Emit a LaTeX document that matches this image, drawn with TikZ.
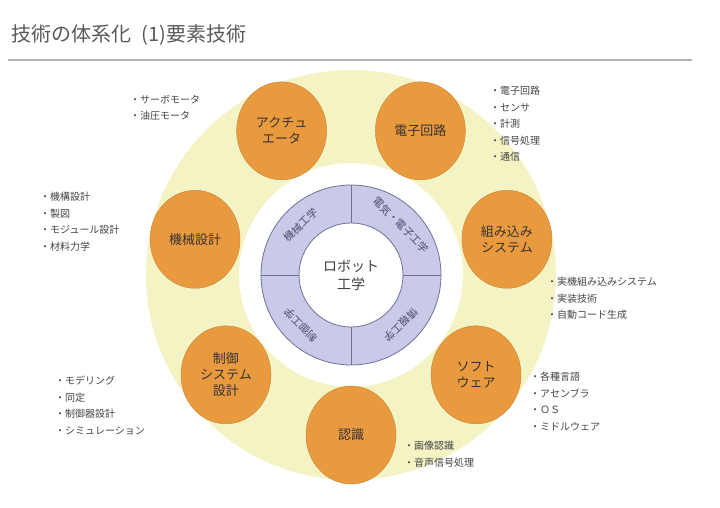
\documentclass[tikz,border=0pt]{standalone}
\usepackage{fontspec}
\setmainfont{Noto Sans CJK JP}
\usetikzlibrary{shapes.geometric,calc}
\definecolor{ringyellow}{HTML}{F4F3C4}
\definecolor{nodeorange}{HTML}{EA9A3E}
\definecolor{fieldpurple}{HTML}{C9CAE8}
\definecolor{fieldline}{HTML}{6E7098}
\definecolor{textgray}{HTML}{444444}
\tikzset{
	every element/.style={
		ellipse,
		fill=nodeorange,
		draw=nodeorange!85!black,
		minimum width=90pt,
		minimum height=98pt,
		align=center,
		text=black!80,
		font=\fontsize{13}{16}\selectfont },
	item list/.style={
		anchor=north west,
		align=left,
		text=textgray,
		inner sep=0pt,
		font=\fontsize{10}{16.5}\selectfont },
	field label/.style={
		text=fieldline!70!black,
		font=\fontsize{10.5}{12}\selectfont },
}
\begin{document}
\begin{tikzpicture}[x=1pt, y=-1pt]
		\useasboundingbox (0,0) rectangle (720,508);

		% title
		\node [anchor=west, text=black!65, font=\fontsize{20}{24}\selectfont] (title) at (8,35) {技術の体系化\hspace{0.5em}(1)要素技術};
		\coordinate (rule-a) at (8,60);
		\coordinate (rule-b) at (692,60);
		\draw [black!30, line width=1.6pt] (rule-a) -- (rule-b);

		% rings
		\coordinate (hub) at (351,275);
		\fill [ringyellow, even odd rule] (hub) circle (205) (hub) circle (112);
		\filldraw [fill=fieldpurple, draw=fieldline, line width=0.8pt] (hub) circle (90);
		\filldraw [fill=white, draw=fieldline, line width=0.8pt] (hub) circle (52);
		\foreach \a in {0,90,180,270}
		\draw [fieldline, line width=0.8pt] ($(hub)+(\a:52)$) -- ($(hub)+(\a:90)$);

		\node [align=center, text=black!75, font=\fontsize{14}{18}\selectfont] (robot) at (hub) {ロボット\\工学};

		\foreach \t/\a/\r in {機械工学/135/45, 電気・電子工学/45/-45, 情報工学/-45/225, 制御工学/-135/135}
		\node [field label, rotate=\r] (field-\a) at ($(hub)+(-\a:71)$) {\t};

		% elements
		\foreach \t/\a [count=\i] in {認識/-90, ソフト\\ウェア/-38.6, 組み込み\\システム/12.9, 電子回路/64.3, アクチュ\\エータ/115.7, 機械設計/167.1, 制御\\システム\\設計/218.6}
		\node [every element] (element-\i) at ($(hub)+(-\a:160)$) {\t};

		% item lists
		\node [item list] (list-1) at (404,441) {・画像認識\\・音声信号処理};
		\node [item list] (list-2) at (530,372) {・各種言語\\・アセンブラ\\・ＯＳ\\・ミドルウェア};
		\node [item list] (list-3) at (547,277) {・実機組み込みシステム\\・実装技術\\・自動コード生成};
		\node [item list] (list-4) at (490,86) {・電子回路\\・センサ\\・計測\\・信号処理\\・通信};
		\node [item list] (list-5) at (130,95) {・サーボモータ\\・油圧モータ};
		\node [item list] (list-6) at (40,192) {・機構設計\\・製図\\・モジュール設計\\・材料力学};
		\node [item list] (list-7) at (55,376) {・モデリング\\・同定\\・制御器設計\\・シミュレーション};
	\end{tikzpicture}
\end{document}
